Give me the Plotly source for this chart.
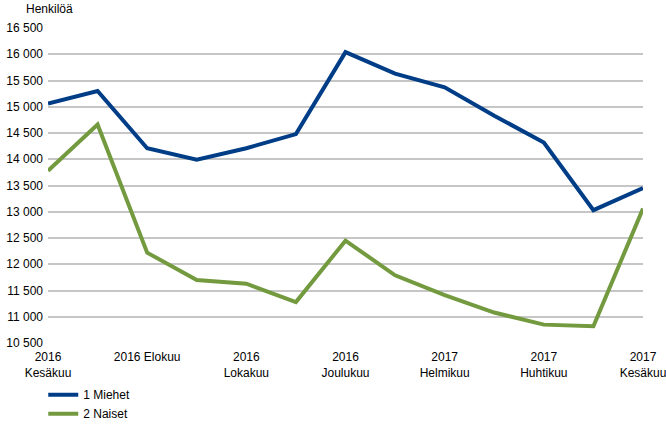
import plotly.graph_objects as go

months = ["2016-06", "2016-07", "2016-08", "2016-09", "2016-10", "2016-11", "2016-12",
          "2017-01", "2017-02", "2017-03", "2017-04", "2017-05", "2017-06"]
tick_labels = ["2016<br>Kesäkuu", "", "2016 Elokuu", "", "2016<br>Lokakuu", "", "2016<br>Joulukuu",
               "", "2017<br>Helmikuu", "", "2017<br>Huhtikuu", "", "2017<br>Kesäkuu"]
miehet = [15060, 15300, 14210, 13990, 14210, 14480, 16040, 15630, 15370, 14830, 14320, 13030, 13450]
naiset = [13780, 14660, 12220, 11700, 11630, 11280, 12450, 11790, 11410, 11080, 10850, 10820, 13060]
series_names = ["1 Miehet", "2 Naiset"]
colors = ["#003D87", "#739A3F"]

idx = list(range(len(months)))
fig = go.Figure()
for name, vals, col in zip(series_names, [miehet, naiset], colors):
    fig.add_trace(go.Scatter(x=idx, y=vals, mode="lines", name=name,
                             line=dict(color=col, width=4), cliponaxis=False))

fig.update_layout(
    width=666, height=425,
    margin=dict(l=48, r=23, t=28, b=82, autoexpand=False),
    paper_bgcolor="white", plot_bgcolor="white",
    font=dict(family="Liberation Sans, Arial, sans-serif", size=12, color="#000000"),
    separators=", ",
    showlegend=True,
    legend=dict(x=-0.008, y=-0.118, xanchor="left", yanchor="top", orientation="v",
                font=dict(size=12), tracegroupgap=0, itemwidth=30),
    xaxis=dict(range=[-0.0001, 12.0001], tickmode="array", tickvals=idx, ticktext=tick_labels,
               showgrid=False, zeroline=False, showline=False, ticks="", tickangle=0,
               automargin=False, ticklabelstandoff=5, ticklabeloverflow="allow"),
    yaxis=dict(range=[10500, 16500], dtick=500, tick0=10500, tickformat=",d",
               showgrid=True, gridcolor="#C6C6C6", gridwidth=1.5, zeroline=False,
               showline=False, ticks="", ticklabelstandoff=4, automargin=False),
    annotations=[dict(text="Henkilöä", xref="paper", yref="paper", x=-0.04, y=1.0,
                      yshift=10, xanchor="left", yanchor="bottom", showarrow=False,
                      font=dict(size=12))],
)
fig.write_html("out.html", config={"displayModeBar": False},
               post_script="document.body.style.margin='0px';")
